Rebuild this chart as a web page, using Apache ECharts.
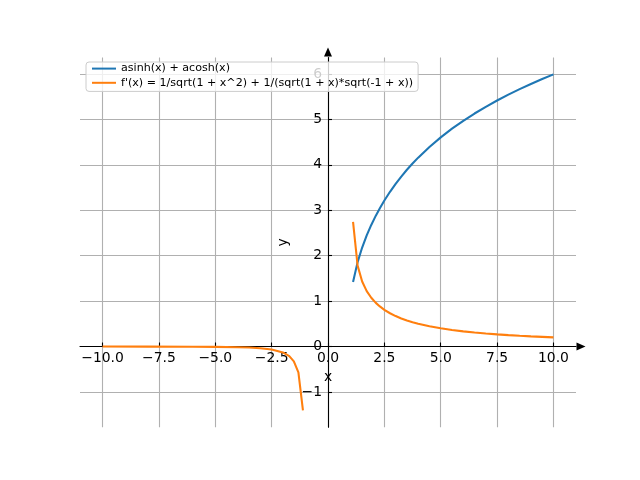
<!DOCTYPE html>
<html>
<head>
<meta charset="utf-8">
<script src="https://cdn.jsdelivr.net/npm/echarts@6/dist/echarts.min.js"></script>
<style>
  html, body { margin: 0; padding: 0; background: #fff; }
  #chart { width: 640px; height: 480px; }
</style>
</head>
<body>
<div id="chart"></div>
<script>
// values
const rightX = [1.111, 1.313, 1.515, 1.717, 1.919, 2.121, 2.3, 2.5, 2.75, 3, 3.25, 3.5, 3.75, 4, 4.5, 5, 5.5, 6, 6.5, 7, 7.5, 8, 8.5, 9, 9.5, 10];
const sumY = [1.422, 1.858, 2.179, 2.445, 2.676, 2.881, 3.045, 3.214, 3.406, 3.581, 3.742, 3.891, 4.029, 4.158, 4.394, 4.605, 4.796, 4.970, 5.130, 5.278, 5.416, 5.545, 5.666, 5.781, 5.889, 5.991];
const derivRightY = [2.745, 1.781, 1.430, 1.220, 1.073, 0.961, 0.882, 0.808, 0.732, 0.670, 0.617, 0.573, 0.534, 0.501, 0.445, 0.400, 0.364, 0.333, 0.308, 0.286, 0.267, 0.250, 0.235, 0.222, 0.211, 0.200];
const leftX = [-10, -8, -6, -5, -4, -3.5, -3, -2.5, -2, -1.717, -1.515, -1.313, -1.111];
const derivLeftY = [-0.001, -0.002, -0.005, -0.008, -0.016, -0.023, -0.037, -0.065, -0.130, -0.213, -0.328, -0.569, -1.407];
const xTicks = [-10, -7.5, -5, -2.5, 0, 2.5, 5, 7.5, 10];
const yTicks = [-1, 0, 1, 2, 3, 4, 5, 6];

const sumName = 'asinh(x) + acosh(x)';
const derivName = "f'(x) = 1/sqrt(1 + x^2) + 1/(sqrt(1 + x)*sqrt(-1 + x))";

const pairs = (xs, ys) => xs.map((x, i) => [x, ys[i]]);
const minus = s => s.replace('-', '\u2212');

// plot box (matplotlib default subplot margins)
const W = 640, H = 480;
const grid = { left: 80, right: 64, top: 57.6, bottom: 52.8 };
const xMin = -11, xMax = 11, yMin = -1.777, yMax = 6.361;
const plotW = W - grid.left - grid.right;
const plotH = H - grid.top - grid.bottom;
// spines sit on the zero lines, so shift each axis from the box edge to zero
const xAxisShift = -(0 - yMin) / (yMax - yMin) * plotH;
const yAxisShift = -(0 - xMin) / (xMax - xMin) * plotW;

const chart = echarts.init(document.getElementById('chart'));

const axisCommon = {
    type: 'value',
    axisLine: {
        onZero: false,
        lineStyle: { color: '#000', width: 1.1 },
        symbol: ['none', 'triangle'],
        symbolSize: [8, 9],
        symbolOffset: [0, 5]
    },
    axisTick: { show: true, inside: true, length: 4, lineStyle: { color: '#000', width: 1.1 } },
    splitLine: { show: true, lineStyle: { color: '#b0b0b0', width: 1.1 } },
    nameTextStyle: { color: '#000', fontSize: 13.9, fontFamily: 'DejaVu Sans' }
};

chart.setOption({
    animation: false,
    backgroundColor: '#fff',
    textStyle: { fontFamily: 'DejaVu Sans' },
    grid: Object.assign({ containLabel: false }, grid),
    legend: {
        data: [sumName, derivName],
        orient: 'vertical',
        left: 86,
        top: 62,
        padding: [1, 5, 3, 5],
        itemWidth: 24,
        itemHeight: 14,
        itemGap: 3,
        itemStyle: { opacity: 0 },
        backgroundColor: 'rgba(255,255,255,0.8)',
        borderColor: '#cccccc',
        borderWidth: 1,
        borderRadius: 3,
        textStyle: { color: '#000', fontSize: 11.1, fontFamily: 'DejaVu Sans' }
    },
    xAxis: Object.assign({}, axisCommon, {
        min: xMin,
        max: xMax,
        position: 'bottom',
        offset: xAxisShift,
        name: 'x',
        nameLocation: 'middle',
        nameGap: 24,
        axisTick: Object.assign({}, axisCommon.axisTick, { customValues: xTicks }),
        axisLabel: {
            customValues: xTicks,
            color: '#000',
            fontSize: 13.9,
            margin: 5,
            formatter: v => minus(Number(v).toFixed(1))
        }
    }),
    yAxis: Object.assign({}, axisCommon, {
        min: yMin,
        max: yMax,
        position: 'left',
        offset: yAxisShift,
        name: 'y',
        nameLocation: 'middle',
        nameGap: 29,
        axisLine: Object.assign({}, axisCommon.axisLine, { symbolOffset: [0, 5.5] }),
        axisTick: Object.assign({}, axisCommon.axisTick, { customValues: yTicks }),
        axisLabel: {
            customValues: yTicks,
            color: '#000',
            fontSize: 13.9,
            margin: 6,
            formatter: v => minus(String(Math.round(v)))
        }
    }),
    series: [
        {
            name: sumName,
            type: 'line',
            symbol: 'none',
            data: pairs(rightX, sumY),
            lineStyle: { color: '#1f77b4', width: 2.08 },
            itemStyle: { color: '#1f77b4' }
        },
        {
            name: derivName,
            type: 'line',
            symbol: 'none',
            data: pairs(leftX, derivLeftY),
            lineStyle: { color: '#ff7f0e', width: 2.08 },
            itemStyle: { color: '#ff7f0e' }
        },
        {
            name: derivName,
            type: 'line',
            symbol: 'none',
            data: pairs(rightX, derivRightY),
            lineStyle: { color: '#ff7f0e', width: 2.08 },
            itemStyle: { color: '#ff7f0e' }
        }
    ]
});
</script>
</body>
</html>
